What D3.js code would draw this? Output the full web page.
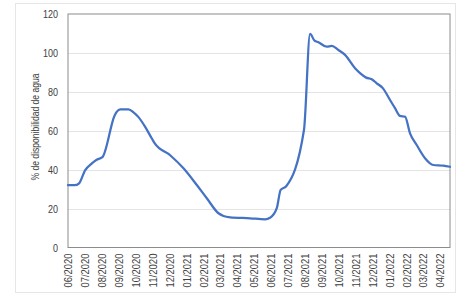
<!DOCTYPE html>
<html>
<head>
<meta charset="utf-8">
<script src="https://cdn.jsdelivr.net/npm/d3@7"></script>
<style>
  body { margin: 0; background: #fff; }
  text { font-family: "Liberation Sans", Arial, sans-serif; fill: #404040; }
  .grid-line { stroke: #e4e4e4; stroke-width: 1; }
</style>
</head>
<body>
<svg id="chart" width="465" height="300"></svg>
<script>
// Water availability (%) over time
const DATES = [
  "2020-06-01", "2020-06-13", "2020-06-21", "2020-07-02", "2020-07-13", "2020-07-22",
  "2020-08-02", "2020-08-24", "2020-08-28", "2020-09-03", "2020-09-18", "2020-09-27",
  "2020-10-06", "2020-10-18", "2020-10-30", "2020-11-04", "2020-12-02", "2020-12-26",
  "2021-01-19", "2021-02-06", "2021-02-27", "2021-03-08", "2021-03-20", "2021-04-25",
  "2021-05-22", "2021-05-31", "2021-06-12", "2021-06-19", "2021-06-29", "2021-07-31",
  "2021-08-11", "2021-08-19", "2021-08-26", "2021-09-10", "2021-09-19", "2021-10-01",
  "2021-10-13", "2021-10-31", "2021-11-09", "2021-11-20", "2021-11-30", "2021-12-09",
  "2021-12-20", "2022-01-02", "2022-01-11", "2022-01-20", "2022-01-29", "2022-02-07",
  "2022-02-19", "2022-03-06", "2022-03-21", "2022-04-08", "2022-04-20"
];
const VALUES = [
  32.0, 32.0, 33.0, 39.8, 43.0, 45.0,
  46.4, 67.8, 69.8, 71.0, 71.0, 69.5,
  67.0, 62.0, 56.0, 53.6, 47.4, 40.7,
  32.1, 25.3, 17.6, 16.2, 15.5, 15.0,
  14.5, 15.3, 20.2, 29.6, 31.5, 60.4,
  109.8, 106.3, 105.5, 103.2, 103.6, 101.5,
  99.0, 92.1, 89.6, 87.3, 86.5, 84.4,
  81.9, 75.8, 71.6, 67.6, 67.3, 58.7,
  52.7, 45.9, 42.4, 42.1, 41.5
];
const Y_TICKS = [0, 20, 40, 60, 80, 100, 120];
const X_START = "2020-06-01", X_END = "2022-04-20";
const Y_TITLE = "% de disponibilidad de agua";

const parse = d3.timeParse("%Y-%m-%d");
const data = DATES.map((d, i) => ({ date: parse(d), v: VALUES[i] }));

const M = { top: 14, right: 15, bottom: 52.5, left: 68 };
const VW = 465, VH = 300;
const W = VW - M.left - M.right;
const H = VH - M.top - M.bottom;

const svg = d3.select("#chart");

// outer chart frame
svg.append("rect")
  .attr("x", 15.5).attr("y", 3.5).attr("width", 440).attr("height", 289)
  .attr("fill", "#fff").attr("stroke", "#e6e6e6");

const g = svg.append("g").attr("transform", `translate(${M.left},${M.top})`);

const x = d3.scaleTime().domain([parse(X_START), parse(X_END)]).range([0, W]);
const y = d3.scaleLinear().domain([0, 120]).range([H, 0]);

// grid
g.append("g").selectAll("line.grid-line")
  .data(Y_TICKS.filter(t => t > 0 && t < 120))
  .join("line").attr("class", "grid-line")
  .attr("x1", 0).attr("x2", W)
  .attr("y1", d => Math.round(y(d)) + 0.5).attr("y2", d => Math.round(y(d)) + 0.5);

// plot frame
g.append("rect")
  .attr("x", 0).attr("y", 0).attr("width", W).attr("height", H)
  .attr("fill", "none").attr("stroke", "#8c8c8c").attr("stroke-width", 1);

// y axis (condensed digits)
const yAx = g.append("g")
  .call(d3.axisLeft(y).tickValues(Y_TICKS).tickSize(0).tickPadding(10));
yAx.select(".domain").remove();
yAx.selectAll("text")
  .style("font-size", "11.5px").attr("fill", "#404040")
  .attr("lengthAdjust", "spacingAndGlyphs")
  .attr("textLength", d => String(d).length * 5);

// x axis (rotated, condensed)
const xAx = g.append("g").attr("transform", `translate(0,${H})`)
  .call(d3.axisBottom(x).ticks(d3.timeMonth.every(1)).tickFormat(d3.timeFormat("%m/%Y")).tickSize(0));
xAx.select(".domain").remove();
xAx.selectAll("text")
  .style("font-size", "11px").attr("fill", "#404040")
  .attr("text-anchor", "end")
  .attr("transform", "rotate(-90)")
  .attr("x", -6).attr("y", 0).attr("dy", "0.35em")
  .attr("lengthAdjust", "spacingAndGlyphs").attr("textLength", 34);

// y title
svg.append("text")
  .attr("transform", "rotate(-90)")
  .attr("x", -127).attr("y", 35).attr("dy", "0.35em")
  .attr("text-anchor", "middle")
  .style("font-size", "11.5px")
  .attr("lengthAdjust", "spacingAndGlyphs").attr("textLength", 107)
  .text(Y_TITLE);

// line
const line = d3.line().x(d => x(d.date)).y(d => y(d.v)).curve(d3.curveMonotoneX);
g.append("path").datum(data)
  .attr("fill", "none").attr("stroke", "#4472C4").attr("stroke-width", 2.25)
  .attr("stroke-linejoin", "round").attr("stroke-linecap", "round")
  .attr("d", line);
</script>
</body>
</html>
